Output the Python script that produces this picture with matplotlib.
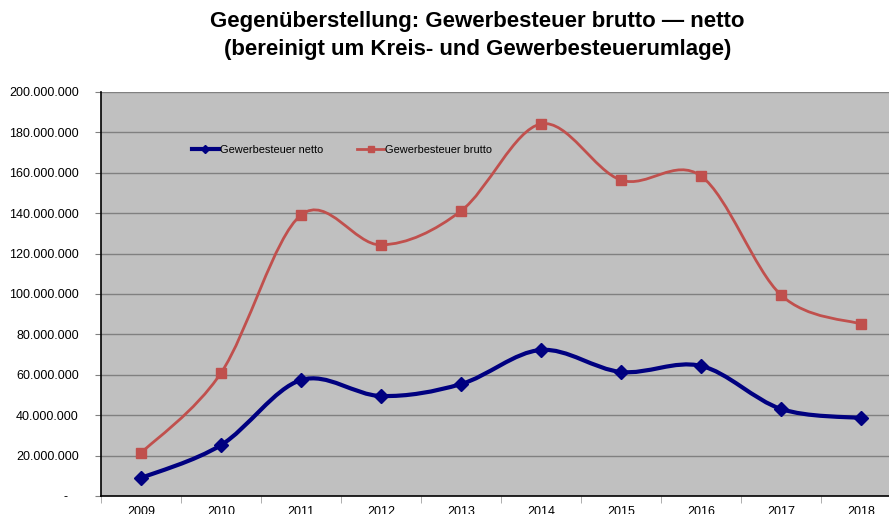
import numpy as np
import matplotlib
matplotlib.use('Agg')
import matplotlib.pyplot as plt
from matplotlib.path import Path
from matplotlib.patches import PathPatch
from matplotlib.lines import Line2D

plt.rcParams['font.family'] = ['Liberation Sans', 'DejaVu Sans']

# Data
years = ['2009', '2010', '2011', '2012', '2013', '2014', '2015', '2016', '2017', '2018']
netto = [8.9e6, 25.2e6, 57.4e6, 49.5e6, 55.4e6, 72.3e6, 61.4e6, 64.4e6, 43.1e6, 38.6e6]
brutto = [21.3e6, 60.9e6, 139.1e6, 124.3e6, 141.1e6, 184.2e6, 156.4e6, 158.4e6, 99.5e6, 85.1e6]
yticks = np.arange(0, 200e6 + 1, 20e6)

title1 = 'Gegenüberstellung: Gewerbesteuer brutto \u2014 netto'
title2 = '(bereinigt um Kreis- und Gewerbesteuerumlage)'

NAVY = '#000080'
RED = '#C0504D'


# smoothed line like excel (catmull-rom as bezier)
def smooth_path(xs, ys):
    p = np.column_stack([xs, ys]).astype(float)
    n = len(p)
    verts = [tuple(p[0])]
    codes = [Path.MOVETO]
    for i in range(n - 1):
        p0 = p[i - 1] if i > 0 else p[i]
        p3 = p[i + 2] if i + 2 < n else p[i + 1]
        c1 = p[i] + (p[i + 1] - p0) / 6
        c2 = p[i + 1] - (p3 - p[i]) / 6
        verts += [tuple(c1), tuple(c2), tuple(p[i + 1])]
        codes += [Path.CURVE4] * 3
    return Path(verts, codes)


fig = plt.figure(figsize=(8.89, 5.14), dpi=100)
ax = fig.add_axes([101 / 889, 18 / 514, 800 / 889, 404 / 514])
ax.set_facecolor('#C0C0C0')

x = np.arange(len(years))

ax.add_patch(PathPatch(smooth_path(x, brutto), fill=False, edgecolor=RED, lw=2.0, zorder=3))
ax.plot(x, brutto, ls='none', marker='s', ms=7, color=RED, zorder=4)
ax.add_patch(PathPatch(smooth_path(x, netto), fill=False, edgecolor=NAVY, lw=3.0, zorder=3))
ax.plot(x, netto, ls='none', marker='D', ms=7, color=NAVY, zorder=4)

ax.set_xlim(-0.5, len(years) - 0.5)
ax.set_ylim(0, 200e6)

# grid
for v in yticks[1:]:
    ax.axhline(v, color='#808080', lw=1, zorder=1)

ax.set_yticks(yticks)
ylabels = ['-   '] + ['{:,.0f}'.format(v).replace(',', '.') for v in yticks[1:]]
ax.set_yticklabels(ylabels, fontsize=9)
ax.tick_params(axis='y', length=4, pad=12, color='#808080')

ax.set_xticks(x)
ax.set_xticklabels(years, fontsize=9)
ax.set_xticks(np.arange(-0.5, len(years), 1), minor=True)
ax.tick_params(axis='x', which='major', length=0, pad=7)
ax.tick_params(axis='x', which='minor', length=5, color='#A0A0A0')

for s in ['top', 'right']:
    ax.spines[s].set_visible(False)
ax.spines['left'].set_color('black')
ax.spines['bottom'].set_color('black')
ax.spines['left'].set_linewidth(1.2)
ax.spines['bottom'].set_linewidth(1.2)

handles = [Line2D([], [], color=NAVY, lw=3, marker='D', ms=4),
           Line2D([], [], color=RED, lw=2, marker='s', ms=4)]
ax.legend(handles, ['Gewerbesteuer netto', 'Gewerbesteuer brutto'], ncol=2, frameon=False,
          fontsize=7.9, loc='center left', bbox_to_anchor=(0.101, 0.856),
          handlelength=2.5, handletextpad=0.1, columnspacing=3.05)

# title as two lines
fig.text(0.537, 1 - 22 / 514, title1, ha='center', va='center', fontsize=16, fontweight='bold')
fig.text(0.537, 1 - 50 / 514, title2, ha='center', va='center', fontsize=16, fontweight='bold')

fig.savefig('out.png', dpi=100)
